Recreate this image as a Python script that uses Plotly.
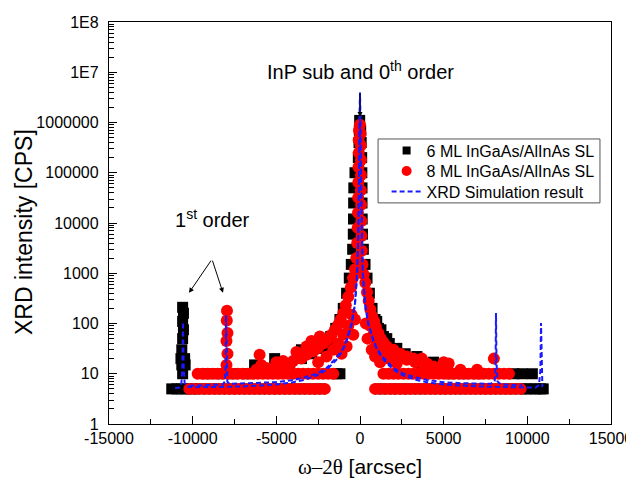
import plotly.graph_objects as go

# ---------------- data ----------------
# 6 ML InGaAs/AlInAs SL (black squares)
ml6_x = [
    # counting floor
    -11250, -10950, -10650, -10350, -10050, -9600, -9000, -8400, -7800, -7200, -6600, -6000,
    -5400, -4800, -4200, -3600, -3000, -2400, 1200, 1800, 2400, 3000, 3600, 4200, 4800, 5400,
    6000, 6600, 7200, 7800, 8400, 9000, 9600, 9900, 10200, 10500, 10800, 10950,
    # 1st order satellite (left)
    -10600, -10550, -10600, -10550, -10600, -10650, -10700, -10480, -10650, -10450, -10600,
    # wings
    -9200, -8400, -7600, -6800, -6300, -6200, -5100, -4900, -3500, -3300, -2100, -1900, -1400, -1200,
    3400, 3600, 4400, 4700, 5400, 6200, 7000, 9200, 9700, 10300,
    # central peak, left flank
    -20, -40, -60, -100, -300, -370, -380, -390, -400, -440, -520, -640, -800, -1000, -1200,
    -1450, -1750, -2100, -2450, -2900, -3500, -4200,
    # central peak, right flank
    40, 70, 100, 110, 120, 120, 130, 150, 200, 300, 420, 560, 720, 900, 1100, 1400, 1750,
    2200, 2700, 3100, 3700, 1000, 1250, 1600,
]
ml6_y = [
    5, 5, 5, 5, 5, 5, 5, 5, 5, 5, 5, 5,
    5, 5, 5, 5, 5, 5, 5, 5, 5, 5, 5, 5, 5, 5,
    5, 5, 5, 5, 5, 5, 5, 5, 5, 5, 5, 5,
    210, 160, 110, 75, 50, 30, 20, 20, 15, 15, 10,
    10, 10, 10, 10, 15, 11, 20, 17, 30, 28, 45, 36, 10, 10,
    22, 17, 17, 14, 10, 10, 10, 10, 10, 10,
    1100000, 700000, 400000, 200000, 100000, 50000, 25000, 12000, 6000, 3000, 1500, 800, 400, 200, 120,
    80, 55, 40, 32, 25, 20, 16,
    700000, 400000, 200000, 100000, 50000, 25000, 12000, 6000, 3000, 1500, 800, 400, 200, 120, 80, 55, 40,
    32, 25, 20, 16, 110, 75, 50,
]

# 8 ML InGaAs/AlInAs SL (red circles)
ml8_x = [
    # counting floor
    -10200, -9900, -9600, -9300, -9000, -8700, -8400, -8100, -7800, -7500, -7200, -6900, -6600, -6300,
    -6000, -5700, -5400, -5100, -4800, -4500, -4200, -3900, -3600, -3300, -3000, -2700, -2400, -2100,
    900, 1200, 1500, 1800, 2100, 2400, 2700, 3000, 3300, 3600, 3900, 4200, 4500, 4800, 5100,
    5400, 5700, 6000, 6300, 6600, 6900, 7200, 7500, 7800, 8100, 8400, 8700, 9000, 9300, 9600,
    # 10 CPS row
    -9700, -9400, -9100, -8800, -8500, -8200, -7900, -7600, -7300, -7000, -6700, -6400, -6100, -5800,
    -5500, -5200, -4900, -4600, -4300, -4000, -3700, -3400, -3100, -2800, -2500, -2200, -1900, -1600,
    1400, 1700, 2000, 2300, 2600, 2900, 3200, 3500, 3800, 4100, 4400, 4700, 5000, 5300, 5600,
    5900, 6200, 6500, 6800, 7100, 7400, 7700, 8000, 8300, 8600, 8900,
    # 1st order satellites
    -7980, -7920, -7980, -7920, -7960, -7950, 8000,
    # wings
    -6000, -5900, -5000, -4600, -4200, -3800, -3500, -3200, -2900, -2700, -2400,
    2000, 2400, 2800, 3200, 3700, 4000, 5000, 5300, 6000, 7000,
    # central peak
    0, -60, 40, -80, 50, -70, 60, -90, 60, -100, 50, -110, 70, -120, 80, -140, 90, -170, 110,
    -220, 150, -300, 220, -420, 320, -550, 420, -700, 520, -850, 620, -1000, 720, -1150, 850,
    -1300, 950, -1500, 1100, -1700, 1250, -1950, 1400, -2200, 1600, -2500, 1800, -2800, 2100,
    -3200, 2400, -3600, 2800, -4000, 3300, -4500, 3800, -5000, 4400, -5600, 5000, -6200,
    # inside of the peak base
    -1000, -1300, -1600, -2000, -2500, -700, -500, 600, 800, 1000, 1300, 1700, 2200,
    -1100, -800, 700, 900, 1200, -400, 450, -300, 350,
]
ml8_y = [
    5, 5, 5, 5, 5, 5, 5, 5, 5, 5, 5, 5, 5, 5,
    5, 5, 5, 5, 5, 5, 5, 5, 5, 5, 5, 5, 5, 5,
    5, 5, 5, 5, 5, 5, 5, 5, 5, 5, 5, 5, 5, 5, 5,
    5, 5, 5, 5, 5, 5, 5, 5, 5, 5, 5, 5, 5, 5, 5,
    10, 10, 10, 10, 10, 10, 10, 10, 10, 10, 10, 10, 10, 10,
    10, 10, 10, 10, 10, 10, 10, 10, 10, 10, 10, 10, 10, 10,
    10, 10, 10, 10, 10, 10, 10, 10, 10, 10, 10, 10, 10, 10, 10,
    10, 10, 10, 10, 10, 10, 10, 10, 10, 10, 10,
    15, 25, 45, 65, 115, 180, 20,
    24, 15, 17, 18, 15, 27, 20, 35, 45, 30, 55,
    30, 25, 22, 20, 20, 16, 17, 16, 12, 12,
    900000, 700000, 600000, 450000, 350000, 250000, 180000, 130000, 90000, 65000, 45000, 32000,
    23000, 16000, 11000, 8000, 5500, 4000, 2800,
    2000, 1500, 1200, 950, 800, 650, 520, 420, 340, 280, 230, 190, 160, 140, 120, 110,
    95, 85, 75, 65, 60, 50, 48, 42, 40, 35, 33, 30, 28, 26,
    24, 22, 21, 19, 18, 17, 16, 15, 15, 14, 13, 13, 12,
    60, 40, 30, 22, 17, 90, 150, 90, 60, 40, 28, 20, 16,
    25, 35, 30, 22, 17, 60, 50, 120, 100,
]

# XRD simulation curves (blue dashed)
sim6_x = [-11050, -10800, -10680, -10620, -10578, -10540, -10480, -10350, -10000, -9000, -8000,
          -7000, -6000, -5000, -4000, -3300, -2600, -2000, -1400, -1100, -800, -500, -300, -170,
          -100, -50, -25, 0, 25, 50, 100, 170, 300, 500, 800, 1100, 1400, 2000, 2600, 3300, 4000,
          5000, 6000, 7000, 8000, 9000, 10000, 10500, 10700, 10780, 10817, 10850, 10900]
sim6_y = [5.2, 5.3, 6, 12, 107, 14, 6.5, 5.6, 5.4, 5.4, 5.5,
          5.6, 5.8, 6.1, 6.8, 7.6, 9.2, 12, 19, 27, 44, 95, 240, 1000,
          6000, 100000, 600000, 3900000, 600000, 100000, 6000, 1000, 240, 95, 44, 27, 19, 12, 9.2, 7.6, 6.8,
          6.1, 5.8, 5.6, 5.5, 5.4, 5.3, 5.3, 6, 12, 102, 14, 5.4]

sim8_x = [-10200, -9000, -8400, -8200, -8080, -8030, -8008, -7980, -7930, -7800, -7000, -6000,
          -5000, -4000, -3300, -2600, -2000, -1400, -1000, -800, -500, -300, -170, -100, -50, -20,
          0, 20, 50, 100, 170, 300, 500, 800, 1000, 1400, 2000, 2600, 3300, 4000, 5000, 6000, 7000,
          7800, 8050, 8100, 8127, 8160, 8220, 8400, 9000, 9700]
sim8_y = [5.8, 5.9, 6.0, 6.1, 7, 15, 148, 16, 7, 6.3, 6.4, 6.5,
          6.8, 7.5, 8.5, 10, 13, 21, 32, 47, 100, 250, 1000, 6000, 150000, 1000000,
          3900000, 1000000, 150000, 6000, 1000, 250, 100, 47, 32, 21, 13, 10, 8.5, 7.5, 6.8, 6.5, 6.4,
          6.3, 7, 15, 162, 16, 7, 6.2, 6.0, 5.9]

x_tickvals = [-15000, -10000, -5000, 0, 5000, 10000, 15000]
x_ticktext = ["-15000", "-10000", "-5000", "0", "5000", "10000", "15000"]
y_tickvals = [1, 10, 100, 1000, 10000, 100000, 1000000, 10000000, 100000000]
y_ticktext = ["1", "10", "100", "1000", "10000", "100000", "1000000", "1E7", "1E8"]

# minor tick positions (axis styling)
x_minor = [-12500, -7500, -2500, 2500, 7500, 12500]
y_minor = [m * d for d in y_tickvals[:-1] for m in range(2, 10)]

FONT = "Liberation Sans, Arial, sans-serif"
SIM_COLOR = "#1a1aff"

fig = go.Figure()

fig.add_trace(go.Scatter(x=ml6_x, y=ml6_y, mode="markers", showlegend=False,
                         marker=dict(symbol="square", size=11, color="black")))
fig.add_trace(go.Scatter(x=ml8_x, y=ml8_y, mode="markers", showlegend=False,
                         marker=dict(symbol="circle", size=12, color="#ff0000")))
fig.add_trace(go.Scatter(x=sim6_x, y=sim6_y, mode="lines", showlegend=False,
                         line=dict(color=SIM_COLOR, width=2, dash="5px,3px")))
fig.add_trace(go.Scatter(x=sim8_x, y=sim8_y, mode="lines", showlegend=False,
                         line=dict(color=SIM_COLOR, width=2, dash="5px,3px")))

# legend entries (one legend per row so the row spacing can match)
fig.add_trace(go.Scatter(x=[None], y=[None], mode="markers", name="6 ML InGaAs/AlInAs SL",
                         legend="legend", marker=dict(symbol="square", size=8, color="black")))
fig.add_trace(go.Scatter(x=[None], y=[None], mode="markers", name="8 ML InGaAs/AlInAs SL",
                         legend="legend2", marker=dict(symbol="circle", size=10, color="#ff0000")))
fig.add_trace(go.Scatter(x=[None], y=[None], mode="lines", name="XRD Simulation result",
                         legend="legend3", line=dict(color=SIM_COLOR, width=2, dash="5px,3px")))

axis_common = dict(showline=True, mirror=True, linecolor="black", linewidth=1.3,
                   ticks="inside", ticklen=8, tickwidth=1.3, tickcolor="black",
                   showgrid=False, zeroline=False, automargin=False,
                   tickfont=dict(family=FONT, size=16, color="black"))

fig.update_xaxes(range=[-15000, 15000], tickmode="array", tickvals=x_tickvals, ticktext=x_ticktext,
                 minor=dict(ticks="inside", ticklen=5, tickmode="array", tickvals=x_minor,
                            tickcolor="black", tickwidth=1.3, showgrid=False),
                 title=dict(text="<span style='font-family:Liberation Serif'>ω–2θ</span> [arcsec]",
                            font=dict(family=FONT, size=21, color="black"), standoff=12),
                 **axis_common)
fig.update_yaxes(type="log", range=[0, 8], tickmode="array", tickvals=y_tickvals, ticktext=y_ticktext,
                 minor=dict(ticks="inside", ticklen=5, tickmode="array", tickvals=y_minor,
                            tickcolor="black", tickwidth=1.3, showgrid=False),
                 ticklabelstandoff=6,
                 **axis_common)

# y-axis title
fig.add_annotation(x=-0.169, y=0.478, xref="paper", yref="paper", showarrow=False,
                   text="XRD intensity [CPS]", textangle=-90, xanchor="center", yanchor="middle",
                   font=dict(family=FONT, size=23, color="black"))

arrow = dict(showarrow=True, arrowhead=2, arrowsize=1, arrowwidth=1, arrowcolor="black",
             xref="x", yref="y", axref="x", ayref="y", text="")
fig.add_annotation(x=-10219, y=2.61, ax=-8845, ay=3.28, **arrow)
fig.add_annotation(x=-8187, y=2.61, ax=-8845, ay=3.28, **arrow)
fig.add_annotation(x=0, y=6.11, ax=0, ay=6.62, **arrow)

fig.add_annotation(x=-8840, y=4.08, xref="x", yref="y", showarrow=False,
                   text="1<sup>st</sup> order", font=dict(family=FONT, size=20, color="black"))
fig.add_annotation(x=0, y=7.03, xref="x", yref="y", showarrow=False,
                   text="InP sub and 0<sup>th</sup> order", font=dict(family=FONT, size=20, color="black"))

# legend frame
fig.add_shape(type="rect", xref="paper", yref="paper", x0=0.536, x1=0.978, y0=0.550, y1=0.709,
              fillcolor="white", line=dict(color="#555555", width=1), layer="above")

leg_common = dict(xanchor="left", yanchor="middle", bgcolor="rgba(0,0,0,0)", borderwidth=0,
                  font=dict(family=FONT, size=16, color="black"))

# page body has an 8px margin: the figure is sized/placed to compensate
fig.update_layout(
    width=626, height=476,
    margin=dict(l=101, r=23, t=14, b=60, autoexpand=False),
    paper_bgcolor="white", plot_bgcolor="white",
    font=dict(family=FONT, color="black"),
    legend=dict(x=0.553, y=0.680, **leg_common),
    legend2=dict(x=0.553, y=0.629, **leg_common),
    legend3=dict(x=0.553, y=0.578, **leg_common),
)

fig.write_html("out.html")
